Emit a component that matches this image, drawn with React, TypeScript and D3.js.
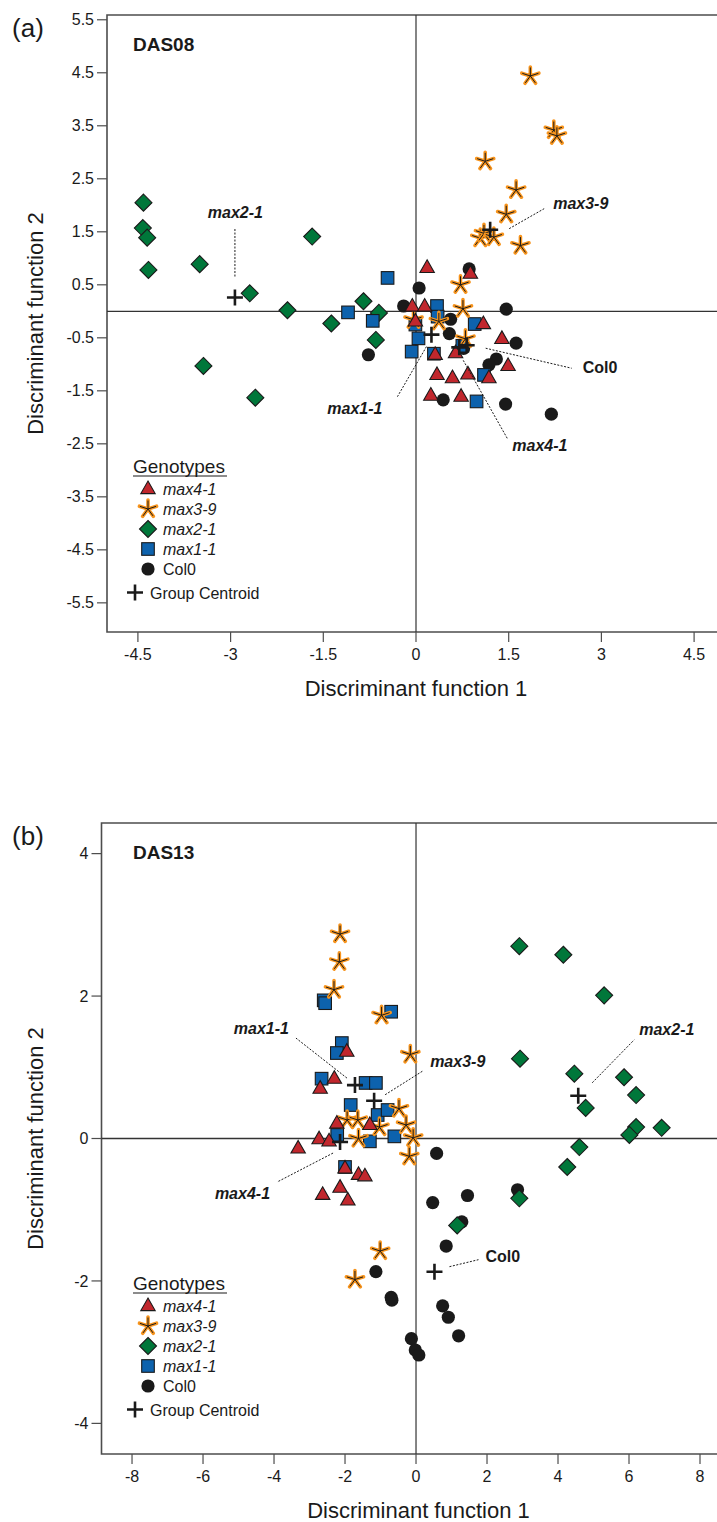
import * as d3 from "d3"

type Pt = [number, number]

// ---- DAS08 (panel a) ----
const a_max41: Pt[] = [
  [0.18, 0.82], [0.88, 0.71], [-0.06, 0.09], [0.14, 0.09], [1.09, -0.24], [1.39, -0.52],
  [-0.01, -0.19], [0.31, -0.82], [0.64, -0.79], [0.34, -1.2], [0.59, -1.26], [0.84, -1.19],
  [1.18, -1.26], [1.49, -1.03], [0.24, -1.59], [0.73, -1.61],
]
const a_max39: Pt[] = [
  [1.85, 4.44], [2.23, 3.42], [2.28, 3.31], [1.12, 2.83], [1.62, 2.29], [1.46, 1.83],
  [1.04, 1.38], [1.1, 1.47], [1.26, 1.4], [1.69, 1.24], [0.72, 0.5], [0.76, 0.05],
  [-0.04, -0.16], [0.37, -0.19], [0.8, -0.52],
]
const a_max21: Pt[] = [
  [-4.41, 2.05], [-4.42, 1.57], [-4.35, 1.39], [-4.33, 0.78], [-3.5, 0.89], [-1.68, 1.41],
  [-2.69, 0.34], [-2.08, 0.02], [-1.37, -0.23], [-3.44, -1.03], [-2.6, -1.63], [-0.85, 0.19],
  [-0.6, -0.03], [-0.65, -0.54],
]
const a_max11: Pt[] = [
  [-0.46, 0.63], [-1.1, -0.02], [-0.7, -0.18], [0.34, 0.1], [0.35, -0.1], [-0.01, -0.25],
  [0.04, -0.51], [-0.07, -0.76], [0.29, -0.8], [0.95, -0.24], [0.75, -0.65], [1.1, -1.2],
  [0.98, -1.7],
]
const a_col0: Pt[] = [
  [0.86, 0.8], [0.05, 0.44], [-0.2, 0.1], [1.46, 0.04], [0.56, -0.15], [0.54, -0.42],
  [0.77, -0.7], [1.62, -0.6], [1.3, -0.9], [1.18, -1.01], [-0.77, -0.82], [0.44, -1.67],
  [1.45, -1.75], [2.19, -1.94],
]
const a_centroids: Pt[] = [[0.7, -0.68], [1.2, 1.54], [-2.93, 0.26], [0.25, -0.44], [0.82, -0.64]]

// ---- DAS13 (panel b) ----
const b_max41: Pt[] = [
  [-1.95, 1.22], [-2.3, 0.84], [-2.7, 0.7], [-2.23, 0.21], [-1.3, 0.19], [-3.32, -0.14],
  [-2.73, -0.01], [-2.45, -0.04], [-2.0, -0.42], [-1.62, -0.51], [-1.44, -0.53], [-2.63, -0.79],
  [-2.14, -0.69], [-1.92, -0.87],
]
const b_max39: Pt[] = [
  [-2.14, 2.87], [-2.16, 2.48], [-2.31, 2.09], [-0.97, 1.73], [-0.16, 1.18], [-0.48, 0.42],
  [-1.94, 0.26], [-1.64, 0.26], [-1.03, 0.16], [-0.28, 0.19], [-1.62, 0.0], [-0.08, 0.01],
  [-0.19, -0.25], [-1.01, -1.58], [-1.72, -1.98],
]
const b_max21: Pt[] = [
  [2.91, 2.7], [4.15, 2.58], [5.3, 2.01], [2.93, 1.12], [4.46, 0.91], [5.86, 0.86],
  [6.2, 0.61], [4.78, 0.43], [6.2, 0.16], [6.01, 0.05], [6.92, 0.15], [4.6, -0.12],
  [4.26, -0.4], [2.91, -0.84], [1.16, -1.22],
]
const b_max11: Pt[] = [
  [-2.6, 1.94], [-2.56, 1.9], [-0.7, 1.78], [-2.09, 1.34], [-2.23, 1.2], [-2.66, 0.84],
  [-1.42, 0.78], [-1.13, 0.78], [-1.84, 0.47], [-1.08, 0.33], [-0.8, 0.4], [-2.22, 0.05],
  [-1.3, -0.04], [-0.61, 0.03], [-2.0, -0.4],
]
const b_col0: Pt[] = [
  [0.58, -0.21], [1.45, -0.8], [0.47, -0.9], [2.86, -0.72], [1.29, -1.17], [0.85, -1.51],
  [0.75, -2.35], [0.91, -2.51], [-1.13, -1.87], [-0.7, -2.23], [-0.68, -2.27], [1.2, -2.77],
  [-0.13, -2.81], [-0.02, -2.97], [0.08, -3.04],
]
const b_centroids: Pt[] = [[-2.14, -0.05], [-1.18, 0.53], [4.57, 0.6], [-1.72, 0.75], [0.52, -1.87]]

const groupNames = ["max4-1", "max3-9", "max2-1", "max1-1", "Col0"]

const a_xTicks = [-4.5, -3, -1.5, 0, 1.5, 3, 4.5]
const a_xTickLabels = ["-4.5", "-3", "-1.5", "0", "1.5", "3", "4.5"]
const a_yTicks = [5.5, 4.5, 3.5, 2.5, 1.5, 0.5, -0.5, -1.5, -2.5, -3.5, -4.5, -5.5]
const a_yTickLabels = ["5.5", "4.5", "3.5", "2.5", "1.5", "0.5", "-0.5", "-1.5", "-2.5", "-3.5", "-4.5", "-5.5"]
const b_xTicks = [-8, -6, -4, -2, 0, 2, 4, 6, 8]
const b_xTickLabels = ["-8", "-6", "-4", "-2", "0", "2", "4", "6", "8"]
const b_yTicks = [4, 2, 0, -2, -4]
const b_yTickLabels = ["4", "2", "0", "-2", "-4"]

const FONT = "Liberation Sans, Arial, Helvetica, sans-serif"
const RED = "#c1272d"
const ORANGE = "#f7941d"
const GREEN = "#00773a"
const BLUE = "#0d62ad"
const DARK = "#1a1a1a"

const asteriskPath = (r: number) =>
  d3.range(5).map((k) => {
    const a = ((90 + 72 * k) * Math.PI) / 180
    return `M0,0L${(r * Math.cos(a)).toFixed(2)},${(-r * Math.sin(a)).toFixed(2)}`
  }).join("")

function Marker({ kind, x, y }: { kind: string; x: number; y: number }) {
  const t = `translate(${x},${y})`
  if (kind === "max4-1")
    return <path transform={t} d="M0,-8L7.2,4.6L-7.2,4.6Z" fill={RED} stroke={DARK} strokeWidth={1.1} />
  if (kind === "max3-9")
    return (
      <g transform={t}>
        <path d={asteriskPath(9)} stroke={ORANGE} strokeWidth={3.6} strokeLinecap="round" />
        <path d={asteriskPath(8.5)} stroke={DARK} strokeWidth={1} />
      </g>
    )
  if (kind === "max2-1")
    return <path transform={t} d="M0,-8.5L8.5,0L0,8.5L-8.5,0Z" fill={GREEN} stroke={DARK} strokeWidth={1.1} />
  if (kind === "max1-1")
    return <rect x={x - 6.3} y={y - 6.3} width={12.6} height={12.6} fill={BLUE} stroke={DARK} strokeWidth={1.1} />
  if (kind === "Col0") return <circle cx={x} cy={y} r={6.6} fill={DARK} />
  return (
    <path transform={t} d="M-8,0H8M0,-8V8" stroke={DARK} strokeWidth={2.6} />
  )
}

interface Ann {
  name: string
  line: [number, number, number, number]
  text: [number, number]
  anchor: string
  italic: boolean
}

interface PanelProps {
  letter: string
  title: string
  xDomain: [number, number]
  xRange: [number, number]
  yDomain: [number, number]
  yRange: [number, number]
  xTicks: number[]
  xTickLabels: string[]
  yTicks: number[]
  yTickLabels: string[]
  groups: Pt[][]
  centroids: Pt[]
  anns: Ann[]
  legendY: number
}

function Panel(p: PanelProps) {
  const x = d3.scaleLinear().domain(p.xDomain).range(p.xRange)
  const y = d3.scaleLinear().domain(p.yDomain).range(p.yRange)
  const [x0] = p.xRange
  const [yb, yt] = p.yRange
  const order = [4, 2, 3, 1, 0] // draw Col0, max2-1, max1-1, max3-9, max4-1
  const cx = (p.xRange[0] + p.xRange[1]) / 2
  const cy = (yb + yt) / 2
  return (
    <g fontFamily={FONT}>
      <text x={12} y={yt + 22} fontSize={26} fill={DARK}>({p.letter})</text>
      {/* frame (right side runs off the page) */}
      <path d={`M740,${yt}H${x0}V${yb}H740`} fill="none" stroke="#4d4d4d" strokeWidth={1.6} />
      <line x1={x(0)} x2={x(0)} y1={yt} y2={yb} stroke="#333" strokeWidth={1.2} />
      <line x1={x0} x2={740} y1={y(0)} y2={y(0)} stroke="#333" strokeWidth={1.3} />
      {p.xTicks.map((t, i) => (
        <g key={"xt" + i}>
          <line x1={x(t)} x2={x(t)} y1={yb} y2={yb + 10} stroke="#4d4d4d" strokeWidth={1.2} />
          <text x={x(t)} y={yb + 28} fontSize={16} textAnchor="middle" fill={DARK}>{p.xTickLabels[i]}</text>
        </g>
      ))}
      {p.yTicks.map((t, i) => (
        <g key={"yt" + i}>
          <line x1={x0 - 10} x2={x0} y1={y(t)} y2={y(t)} stroke="#4d4d4d" strokeWidth={1.2} />
          <text x={x0 - 13} y={y(t)} dy="0.35em" fontSize={16} textAnchor="end" fill={DARK}>{p.yTickLabels[i]}</text>
        </g>
      ))}
      <text x={cx} y={yb + 64} fontSize={22} textAnchor="middle" fill={DARK}>Discriminant function 1</text>
      <text transform={`translate(43,${cy}) rotate(-90)`} fontSize={22} textAnchor="middle" fill={DARK}>
        Discriminant function 2
      </text>
      <text x={133} y={yt + 36} fontSize={19} fontWeight="bold" fill={DARK}>{p.title}</text>

      {order.map((gi) =>
        p.groups[gi].map((d, j) => <Marker key={gi + "-" + j} kind={groupNames[gi]} x={x(d[0])} y={y(d[1])} />)
      )}
      {p.centroids.map((d, j) => <Marker key={"c" + j} kind="centroid" x={x(d[0])} y={y(d[1])} />)}

      {p.anns.map((a, j) => {
        const c = p.centroids[groupNames.indexOf(a.name)]
        const px = x(c[0])
        const py = y(c[1])
        return (
          <g key={"ann" + j}>
            <line x1={px + a.line[0]} y1={py + a.line[1]} x2={px + a.line[2]} y2={py + a.line[3]}
              stroke={DARK} strokeWidth={1} strokeDasharray="2,1.5" />
            <text x={px + a.text[0]} y={py + a.text[1]} fontSize={16} fontWeight="bold"
              fontStyle={a.italic ? "italic" : "normal"} textAnchor={a.anchor} fill={DARK}>{a.name}</text>
          </g>
        )
      })}

      {/* legend */}
      <g transform={`translate(0,${p.legendY})`}>
        <text x={133} y={6.5} fontSize={19} fill={DARK}>Genotypes</text>
        <line x1={133} x2={227} y1={10} y2={10} stroke={DARK} strokeWidth={1.1} />
        {groupNames.map((g, i) => (
          <g key={"lg" + i}>
            <Marker kind={g} x={148} y={23 + i * 20} />
            <text x={163} y={23 + i * 20 + 6} fontSize={16} fontStyle={g === "Col0" ? "normal" : "italic"} fill={DARK}>{g}</text>
          </g>
        ))}
        <Marker kind="centroid" x={135} y={126.5} />
        <text x={150} y={132.5} fontSize={16} fill={DARK}>Group Centroid</text>
      </g>
    </g>
  )
}

const annsA: Ann[] = [
  { name: "max2-1", line: [0, -21, 0, -70], text: [0.5, -80], anchor: "middle", italic: true },
  { name: "max3-9", line: [19, -1, 54, -21], text: [63, -21], anchor: "start", italic: true },
  { name: "max1-1", line: [-5, 12, -34, 62], text: [-49, 79], anchor: "end", italic: true },
  { name: "max4-1", line: [4, 13, 48, 91], text: [53, 104], anchor: "start", italic: true },
  { name: "Col0", line: [19, 3, 105, 23], text: [116, 28], anchor: "start", italic: false },
]
const annsB: Ann[] = [
  { name: "max1-1", line: [-8, -7, -59, -47], text: [-66, -51], anchor: "end", italic: true },
  { name: "max3-9", line: [11, -6, 49, -30], text: [56, -34], anchor: "start", italic: true },
  { name: "max2-1", line: [14, -13, 56, -56], text: [61, -61], anchor: "start", italic: true },
  { name: "max4-1", line: [-7, 11, -63, 40], text: [-70, 57], anchor: "end", italic: true },
  { name: "Col0", line: [15, -5, 44, -12], text: [51, -10], anchor: "start", italic: false },
]

export default function App() {
  return (
    <svg width={717} height={1522} style={{ position: "absolute", left: 0, top: 0, background: "#fff" }}>
      <Panel letter="a" title="DAS08" xDomain={[-5, 5]} xRange={[107, 725]} yDomain={[-6.05, 5.59]} yRange={[632, 15]}
        xTicks={a_xTicks} xTickLabels={a_xTickLabels} yTicks={a_yTicks} yTickLabels={a_yTickLabels}
        groups={[a_max41, a_max39, a_max21, a_max11, a_col0]} centroids={a_centroids} anns={annsA} legendY={466} />
      <Panel letter="b" title="DAS13" xDomain={[-8.86, 9]} xRange={[101.5, 735.5]} yDomain={[-4.43, 4.43]} yRange={[1454, 823]}
        xTicks={b_xTicks} xTickLabels={b_xTickLabels} yTicks={b_yTicks} yTickLabels={b_yTickLabels}
        groups={[b_max41, b_max39, b_max21, b_max11, b_col0]} centroids={b_centroids} anns={annsB} legendY={1283} />
    </svg>
  )
}
